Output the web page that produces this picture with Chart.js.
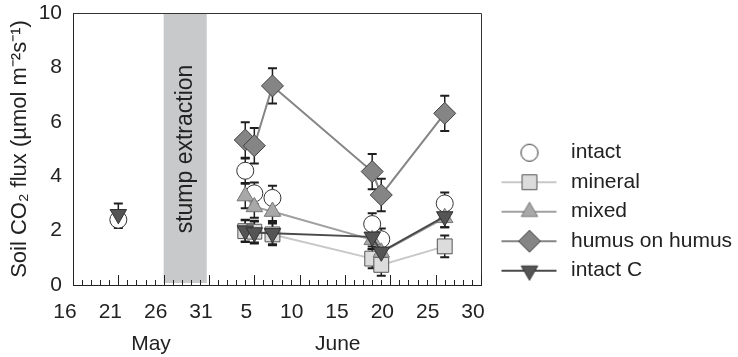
<!DOCTYPE html>
<html>
<head>
<meta charset="utf-8">
<script src="https://cdn.jsdelivr.net/npm/chart.js@4.4.1/dist/chart.umd.min.js"></script>
<style>
  body { margin: 0; background: #fff; }
  #wrap { width: 738px; height: 357px; }
</style>
</head>
<body>
<div id="wrap"><canvas id="fluxChart"></canvas></div>
<script>
// days after 16 May (5 = 21 May, 19 = 4 June, ...)
const sampleDays = [5, 19, 20, 22, 33, 34, 41];

const intact   = [2.4, 4.2, 3.37, 3.2, 2.24, 1.68, 3.0];
const mineral  = [null, 1.98, 1.96, 1.86, 0.97, 0.74, 1.42];
const mixed    = [null, 3.27, 2.87, 2.7, 1.66, 1.2, 2.47];
const humus    = [null, 5.33, 5.12, 7.32, 4.17, 3.31, 6.31];
const intactC  = [2.6, 2.0, 1.93, 1.9, 1.77, 1.22, 2.52];

const intactErr  = [0.3, 0.45, 0.4, 0.45, 0.4, 0.4, 0.4];
const mineralErr = [null, 0.4, 0.4, 0.4, 0.35, 0.4, 0.4];
const mixedErr   = [null, 0.45, 0.4, 0.35, 0.35, 0.35, 0.35];
const humusErr   = [null, 0.65, 0.65, 0.65, 0.65, 0.6, 0.65];
const intactCErr = [0.4, 0.4, 0.4, 0.4, 0.35, 0.4, 0.4];

const xTickLabels = ['16', '21', '26', '31', '5', '10', '15', '20', '25', '30'];
const monthLabels = ['May', 'June'];
const monthTickDays = [8.6, 29.2];

// stump extraction period (days after 16 May)
const extractionStart = 10;
const extractionEnd = 14.75;

const FONT = "'Liberation Sans', Arial, sans-serif";
Chart.defaults.font.family = FONT;
Chart.defaults.font.size = 21;
Chart.defaults.color = '#222';

function pts(vals) {
    return sampleDays.map((d, i) => ({ x: d, y: vals[i] }));
}

const datasets = [
    {
        label: 'intact', data: pts(intact), errs: intactErr, showLine: false,
        pointStyle: 'circle', pointRadius: 8.5, backgroundColor: '#ffffff',
        borderColor: '#333333', pointBorderWidth: 1, order: 5
    },
    {
        label: 'mineral', data: pts(mineral), errs: mineralErr,
        pointStyle: 'rect', pointRadius: 10.5, backgroundColor: '#dcdcdc',
        pointBorderColor: '#555555', borderColor: '#c8c8c8', borderWidth: 2, pointBorderWidth: 1, order: 4
    },
    {
        label: 'mixed', data: pts(mixed), errs: mixedErr,
        pointStyle: 'triangle', pointRadius: 9.5, backgroundColor: '#a8a8a8',
        pointBorderColor: '#777777', borderColor: '#a0a0a0', borderWidth: 2, pointBorderWidth: 1, order: 3
    },
    {
        label: 'humus on humus', data: pts(humus), errs: humusErr,
        pointStyle: 'rectRot', pointRadius: 11, backgroundColor: '#858585',
        pointBorderColor: '#404040', borderColor: '#858585', borderWidth: 2, pointBorderWidth: 1, order: 2
    },
    {
        label: 'intact C', data: pts(intactC), errs: intactCErr,
        pointStyle: 'triangle', pointRotation: 180, pointRadius: 9.5, backgroundColor: '#555555',
        pointBorderColor: '#333333', borderColor: '#4a4a4a', borderWidth: 2, pointBorderWidth: 1, order: 1,
        segment: {
            borderColor: c => c.p0.parsed.x < extractionStart ? 'rgba(0,0,0,0)' : undefined
        }
    }
];

function legendIcon(ds) {
    const c = document.createElement('canvas');
    c.width = 71;
    c.height = 26;
    const g = c.getContext('2d');
    if (ds.showLine !== false) {
        g.strokeStyle = ds.borderColor;
        g.lineWidth = 2;
        g.beginPath();
        g.moveTo(12, 13);
        g.lineTo(67, 13);
        g.stroke();
    }
    g.fillStyle = ds.backgroundColor;
    g.strokeStyle = ds.pointBorderColor || ds.borderColor;
    g.lineWidth = 1;
    Chart.helpers.drawPoint(g, {
        pointStyle: ds.pointStyle, radius: ds.pointRadius,
        rotation: ds.pointRotation || 0, borderWidth: 1
    }, 40, 13);
    return c;
}

const extrasPlugin = {
    id: 'extras',
    beforeDatasetsDraw(chart) {
        const { ctx, chartArea, scales: { x, y } } = chart;
        // stump extraction band
        const x0 = x.getPixelForValue(extractionStart);
        const x1 = x.getPixelForValue(extractionEnd);
        ctx.save();
        ctx.fillStyle = '#c8c9ca';
        ctx.fillRect(x0, chartArea.top, x1 - x0, chartArea.bottom - chartArea.top - 2);
        ctx.translate((x0 + x1) / 2, (chartArea.top + chartArea.bottom) / 2);
        ctx.rotate(-Math.PI / 2);
        ctx.fillStyle = '#222';
        ctx.font = '23px ' + FONT;
        ctx.textAlign = 'center';
        ctx.textBaseline = 'middle';
        ctx.fillText('stump extraction', 0, 0);
        ctx.restore();

        // error bars
        ctx.save();
        ctx.strokeStyle = '#1e1e1e';
        chart.data.datasets.forEach(ds => {
            ds.data.forEach((p, i) => {
                const e = ds.errs[i];
                if (p.y === null || e === null) return;
                const px = x.getPixelForValue(p.x);
                const top = y.getPixelForValue(p.y + e);
                const bot = y.getPixelForValue(p.y - e);
                ctx.lineWidth = 1.5;
                ctx.beginPath();
                ctx.moveTo(px, top); ctx.lineTo(px, bot);
                ctx.stroke();
                ctx.lineWidth = 2;
                ctx.beginPath();
                ctx.moveTo(px - 4.5, top); ctx.lineTo(px + 4.5, top);
                ctx.moveTo(px - 4.5, bot); ctx.lineTo(px + 4.5, bot);
                ctx.stroke();
            });
        });
        ctx.restore();
    },
    afterDraw(chart) {
        const { ctx, chartArea, scales: { x } } = chart;
        ctx.save();
        ctx.strokeStyle = '#333';
        ctx.lineWidth = 1;
        ctx.beginPath();
        ctx.moveTo(chartArea.left, chartArea.top + 0.5);
        ctx.lineTo(chartArea.right + 0.5, chartArea.top + 0.5);
        ctx.lineTo(chartArea.right + 0.5, chartArea.bottom);
        ctx.stroke();
        // inward ticks on the date axis
        ctx.strokeStyle = '#222';
        x.ticks.forEach(t => {
            const px = Math.round(x.getPixelForValue(t.value)) + 0.5;
            const len = t.value % 5 === 0 ? 10 : 5;
            ctx.beginPath();
            ctx.moveTo(px, chartArea.bottom);
            ctx.lineTo(px, chartArea.bottom - len);
            ctx.stroke();
        });
        ctx.restore();
    }
};

const ctx = document.getElementById('fluxChart').getContext('2d');

const fluxChart = new Chart(ctx, {
    type: 'line',
    data: { datasets: datasets },
    options: {
        responsive: true,
        maintainAspectRatio: false,
        animation: false,
        events: [],
        layout: { padding: { left: 5, top: 13, bottom: 1, right: 0 } },
        scales: {
            x: {
                type: 'linear',
                min: 0,
                max: 45,
                grid: { display: false, drawTicks: false },
                border: { display: true, color: '#222', width: 1 },
                afterFit: s => { s.height = 38; s.paddingLeft = 0; s.paddingRight = 0; },
                ticks: {
                    stepSize: 1,
                    autoSkip: false,
                    maxRotation: 0,
                    padding: 14.5,
                    labelOffset: -8,
                    callback: v => v % 5 === 0 ? xTickLabels[v / 5] : ''
                }
            },
            xm: {
                type: 'linear',
                position: 'bottom',
                weight: 1,
                min: 0,
                max: 45,
                grid: { display: false, drawTicks: false },
                border: { display: false },
                afterBuildTicks: axis => { axis.ticks = monthTickDays.map(v => ({ value: v })); },
                afterFit: s => { s.height = 33; s.paddingLeft = 0; s.paddingRight = 0; },
                ticks: {
                    autoSkip: false,
                    maxRotation: 0,
                    padding: 9,
                    callback: (v, i) => monthLabels[i]
                }
            },
            y: {
                min: 0,
                max: 10,
                grid: { display: false, drawTicks: false },
                border: { display: true, color: '#222', width: 1 },
                afterFit: s => { s.width = 68; s.paddingTop = 0; s.paddingBottom = 0; },
                ticks: { stepSize: 2, padding: 11 },
                title: {
                    display: true,
                    text: 'Soil CO₂ flux (µmol m⁻²s⁻¹)',
                    font: { size: 22 },
                    padding: { top: 2, bottom: 4 }
                }
            }
        },
        plugins: {
            tooltip: { enabled: false },
            legend: {
                display: true,
                position: 'right',
                maxWidth: 257,
                title: { display: true, text: ' ', padding: { top: 40, bottom: 0 }, font: { size: 12 } },
                labels: {
                    usePointStyle: true,
                    pointStyleWidth: 71,
                    padding: 8.5,
                    font: { size: 21 },
                    color: '#222',
                    generateLabels: chart => chart.data.datasets.map((ds, i) => ({
                        text: ds.label,
                        pointStyle: legendIcon(ds),
                        fillStyle: ds.backgroundColor,
                        strokeStyle: ds.borderColor,
                        lineWidth: 0,
                        hidden: false,
                        datasetIndex: i,
                        fontColor: '#222'
                    }))
                }
            }
        }
    },
    plugins: [extrasPlugin]
});
</script>
</body>
</html>
